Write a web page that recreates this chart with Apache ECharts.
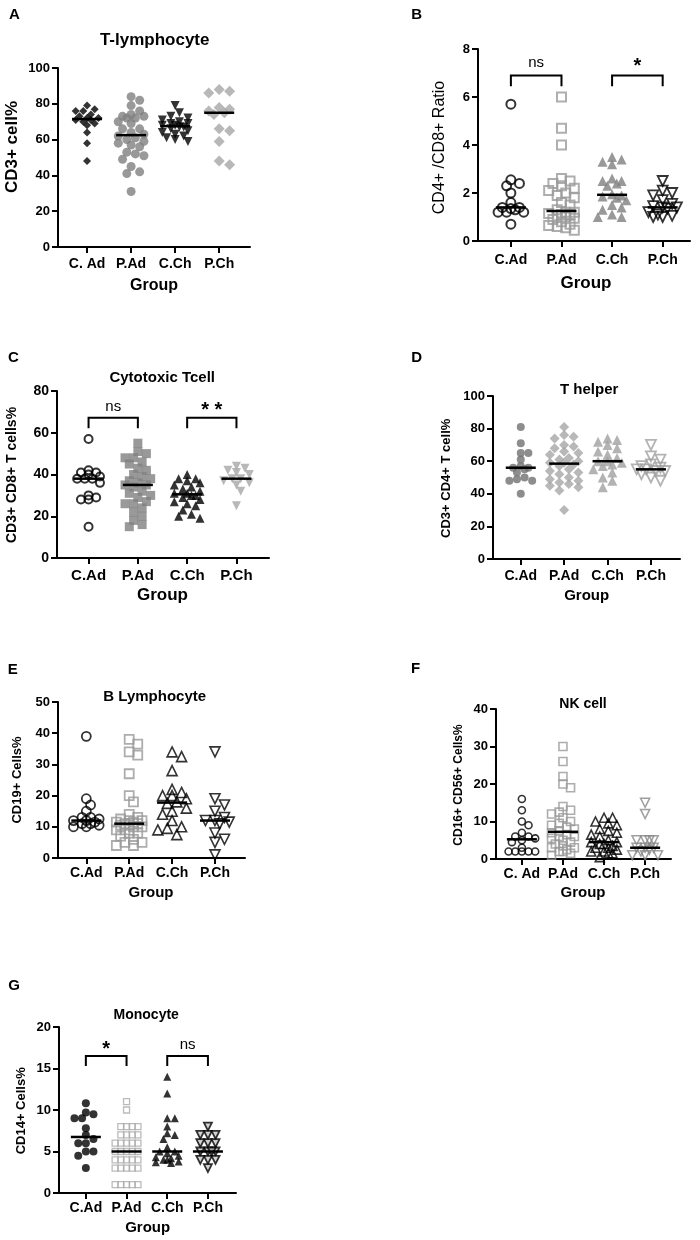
<!DOCTYPE html>
<html><head><meta charset="utf-8">
<script src="https://cdn.jsdelivr.net/npm/echarts@6/dist/echarts.min.js"></script>
<style>html,body{margin:0;padding:0;background:#fff}#c{width:700px;height:1240px}</style>
</head><body><div id="c"></div>
<script>
// ---- categories ----
const catsA = ['C. Ad', 'P.Ad', 'C.Ch', 'P.Ch'];
const catsB = ['C.Ad', 'P.Ad', 'C.Ch', 'P.Ch'];

// ---- A: T-lymphocyte (CD3+ cell%) ----
const A_CAd = [79, 77, 76, 76, 74, 73, 72, 72, 71, 71, 70, 69, 68, 64, 58, 48];
const A_PAd = [84, 82, 79, 76, 74, 73, 73, 72, 72, 70, 69, 66, 66, 64, 63, 62, 61, 60, 59, 58, 57, 56, 53, 52, 51, 49, 45, 42, 41, 31];
const A_CCh = [79, 75, 73, 72, 71, 70, 69, 69, 68, 68, 67, 67, 66, 65, 64, 63, 62, 61, 60, 59];
const A_PCh = [88, 87, 86, 78, 77, 76, 75, 74, 66, 65, 59, 48, 46];

// ---- B: CD4+/CD8+ ratio ----
const B_CAd = [5.7, 2.55, 2.4, 2.3, 2.0, 1.6, 1.4, 1.4, 1.35, 1.3, 1.2, 1.2, 1.2, 0.7];
const B_PAd = [6.0, 4.7, 4.0, 2.6, 2.5, 2.4, 2.3, 2.2, 2.1, 2.0, 1.9, 1.8, 1.6, 1.5, 1.3, 1.2, 1.2, 1.15, 1.1, 1.1, 1.05, 1.0, 0.95, 0.9, 0.8, 0.7, 0.65, 0.6, 0.55, 0.45];
const B_CCh = [3.5, 3.4, 3.3, 3.2, 2.6, 2.5, 2.5, 2.4, 2.3, 1.95, 1.9, 1.85, 1.8, 1.7, 1.5, 1.4, 1.3, 1.1, 1.0, 1.0];
const B_PCh = [2.5, 2.1, 2.0, 1.9, 1.7, 1.55, 1.45, 1.4, 1.4, 1.35, 1.2, 1.1, 1.05, 1.0, 1.0];

// ---- C: Cytotoxic Tcell ----
const C_CAd = [57, 42, 41, 41, 40, 39, 38, 38, 38, 36, 30, 29, 28, 28, 15];
const C_PAd = [55, 51, 50, 48, 48, 46, 45, 43, 42, 40, 39, 38, 37, 36, 35, 35, 34, 32, 31, 30, 29, 27, 26, 26, 24, 22, 20, 18, 16, 15];
const C_CCh = [40, 38, 38, 37, 36, 35, 34, 33, 32, 31, 31, 30, 30, 29, 28, 27, 26, 25, 23, 21, 20, 19];
const C_PCh = [44, 43, 42, 41, 40, 38, 38, 37, 36, 35, 32, 25];

// ---- D: T helper ----
const D_CAd = [81, 71, 65, 65, 61, 57, 56, 56, 55, 53, 50, 49, 48, 48, 40];
const D_PAd = [81, 76, 75, 74, 70, 69, 68, 66, 65, 64, 62, 61, 60, 59, 59, 58, 57, 55, 54, 53, 52, 50, 49, 48, 47, 46, 45, 44, 42, 30];
const D_CCh = [74, 73, 72, 70, 68, 66, 64, 62, 60, 60, 59, 58, 57, 55, 53, 50, 48, 44];
const D_PCh = [70, 63, 61, 58, 57, 56, 55, 55, 54, 54, 52, 50, 48];

// ---- E: B Lymphocyte ----
const E_CAd = [39, 19, 17, 15, 13, 13, 12.5, 12, 12, 11.5, 11, 11, 10.5, 10, 10];
const E_PAd = [38, 36.5, 34, 33, 27, 20, 18, 14, 13, 12.5, 12, 12, 11.5, 11.5, 11, 11, 10.5, 10.5, 10, 10, 9, 9, 8, 8, 7, 6, 5, 5, 4, 4];
const E_CCh = [34, 32.5, 28, 22, 21, 20, 20, 19, 18, 17.5, 16, 15, 14, 12, 10, 9.5, 9, 7.5];
const E_PCh = [34, 19, 17, 15, 13, 12, 12, 11.5, 11, 8, 6, 5, 1];

// ---- F: NK cell ----
const F_CAd = [16, 13, 10, 9, 7, 6, 6, 5.5, 5, 4.5, 3, 2, 2, 2, 2, 2];
const F_PAd = [30, 26, 22, 20, 19, 14, 13, 12.5, 12, 11, 10, 9.5, 9, 8.5, 8, 7.5, 7, 6.5, 6, 6, 5.5, 5, 4.5, 4, 3.5, 3, 3, 2.5, 2, 2, 1.5, 1];
const F_CCh = [11, 11, 10, 9.5, 9, 8, 7.5, 7, 6.5, 6, 5, 4.5, 4.5, 4, 4, 3.5, 3, 3, 2.5, 2, 2, 1.5, 1.5, 0.5];
const F_PCh = [15, 12, 5, 5, 5, 5, 3, 3, 3, 2.5, 2, 1, 1, 1];

// ---- G: Monocyte ----
const G_CAd = [10.8, 9.7, 9.5, 9.0, 9.0, 7.8, 7.0, 6.5, 6.0, 6.0, 5.0, 5.0, 4.5, 3.0];
const G_PAd = [11, 10, 8, 8, 8, 8, 7, 7, 7, 7, 6, 6, 6, 6, 6, 5, 5, 5, 5, 5, 4, 4, 4, 4, 4, 3, 3, 3, 3, 3, 1, 1, 1, 1, 1];
const G_CCh = [14, 12, 9, 9, 8, 7.2, 7, 6.5, 5.5, 5, 5, 4.8, 4.5, 4.3, 4.2, 4, 4, 3.8, 3.7, 3.6];
const G_PCh = [8, 7, 7, 7, 6, 6, 6, 5, 5, 5, 5, 4, 4, 4, 3];

// ---- significance brackets: [fromGroup, toGroup, top, legBottom] + label ----
const B_sig = [[1, 2, 6.9, 6.45], [3, 4, 6.9, 6.45]];
const B_sigText = ['ns', '*'];
const C_sig = [[1, 2, 67.2, 62.2], [3, 4, 67.2, 62.2]];
const C_sigText = ['ns', '* *'];
const G_sig = [[1, 2, 16.5, 15.3], [3, 4, 16.5, 15.3]];
const G_sigText = ['*', 'ns'];

// ---- layout / style (not data) ----
const FF = '"Liberation Sans", Arial, Helvetica, sans-serif';
const filled = (c) => ({ color: c });
const open = (c, w) => ({ color: 'rgba(255,255,255,0)', borderColor: c, borderWidth: w || 1.6 });

const panels = [
  { letter: 'A', L: [14.5, 15], title: 'T-lymphocyte', T: [154.7, 40, 17], yName: 'CD3+ cell%', Y: [12, 147, 17, 'bold'],
    G: [154, 286, 16], cats: catsA, grid: { left: 58, top: 68, width: 192, height: 179 }, xr: [0.34, 4.7], yr: [0, 100, 20],
    tick: 13, xl: 14, xm: 10, data: [A_CAd, A_PAd, A_CCh, A_PCh],
    sty: [['diamond', 8, 0, filled('#000')], ['circle', 9, 0, filled('#7f7f7f')], ['triangle', 9, 180, filled('#000')], ['diamond', 11, 0, filled('#a6a6a6')]] },
  { letter: 'B', L: [416.7, 15], yName: 'CD4+ /CD8+ Ratio', Y: [440, 147.5, 16, 'normal'],
    G: [586, 283, 17], cats: catsB, grid: { left: 478, top: 49, width: 212, height: 192 }, xr: [0.35, 4.54], yr: [0, 8, 2],
    tick: 13, xl: 14, xm: 12, data: [B_CAd, B_PAd, B_CCh, B_PCh], sig: B_sig, sigText: B_sigText, sigGap: 13,
    sty: [['circle', 9, 0, open('#000', 2)], ['rect', 9, 0, open('#9a9a9a', 2)], ['triangle', 10, 0, filled('#808080')], ['triangle', 10, 180, open('#000', 1.8)]] },
  { letter: 'C', L: [13.3, 358.3], title: 'Cytotoxic Tcell', T: [162.2, 377.5, 15], yName: 'CD3+ CD8+ T cells%', Y: [12.5, 475, 14, 'bold'],
    G: [162.5, 595, 17], cats: catsB, grid: { left: 57, top: 391, width: 212, height: 167 }, xr: [0.36, 4.66], yr: [0, 80, 20],
    tick: 14, xl: 15, xm: 10, data: [C_CAd, C_PAd, C_CCh, C_PCh], sig: C_sig, sigText: C_sigText, sigGap: 11,
    sty: [['circle', 8, 0, open('#000', 2)], ['rect', 9, 0, filled('#808080')], ['triangle', 9, 0, filled('#000')], ['triangle', 9, 180, filled('#a6a6a6')]] },
  { letter: 'D', L: [416.7, 358], title: 'T helper', T: [589.2, 389.5, 15], yName: 'CD3+ CD4+ T cell%', Y: [446.3, 478.3, 13, 'bold'],
    G: [586.7, 596, 15], cats: catsB, grid: { left: 493, top: 396, width: 187, height: 163 }, xr: [0.36, 4.67], yr: [0, 100, 20],
    tick: 13, xl: 14, xm: 10, data: [D_CAd, D_PAd, D_CCh, D_PCh],
    sty: [['circle', 8, 0, filled('#707070')], ['diamond', 10, 0, filled('#a6a6a6')], ['triangle', 10, 0, filled('#a0a0a0')], ['triangle', 10, 180, open('#a0a0a0', 1.8)]] },
  { letter: 'E', L: [12.8, 670], title: 'B Lymphocyte', T: [154.7, 697, 15], yName: 'CD19+ Cells%', Y: [17.5, 780, 13, 'bold'],
    G: [151, 892.7, 15], cats: catsB, grid: { left: 58, top: 702, width: 187, height: 156 }, xr: [0.34, 4.7], yr: [0, 50, 10],
    tick: 13, xl: 14, xm: 8, data: [E_CAd, E_PAd, E_CCh, E_PCh],
    sty: [['circle', 9, 0, open('#000', 1.8)], ['rect', 9, 0, open('#999', 1.8)], ['triangle', 10, 0, open('#000', 1.6)], ['triangle', 10, 180, open('#000', 1.6)]] },
  { letter: 'F', L: [415.5, 669], title: 'NK cell', T: [583, 704, 14], yName: 'CD16+ CD56+ Cells%', Y: [458.3, 785, 12, 'bold'],
    G: [583, 893.3, 15], cats: catsA, grid: { left: 496, top: 709, width: 175, height: 150 }, xr: [0.37, 4.63], yr: [0, 40, 10],
    tick: 13, xl: 14, xm: 8, data: [F_CAd, F_PAd, F_CCh, F_PCh],
    sty: [['circle', 7, 0, open('#000', 1.6)], ['rect', 8, 0, open('#999', 1.6)], ['triangle', 9, 0, open('#000', 1.6)], ['triangle', 9, 180, open('#888', 1.6)]] },
  { letter: 'G', L: [14.2, 986.3], title: 'Monocyte', T: [146.2, 1015, 14], yName: 'CD14+ Cells%', Y: [21.5, 1110.8, 13, 'bold'],
    G: [147.7, 1228.3, 15], cats: catsB, grid: { left: 59, top: 1027, width: 177, height: 166 }, xr: [0.34, 4.69], yr: [0, 20, 5],
    tick: 13, xl: 14, xm: 8, data: [G_CAd, G_PAd, G_CCh, G_PCh], sig: G_sig, sigText: G_sigText, sigGap: 11,
    sty: [['circle', 8, 0, filled('#000')], ['rect', 6, 0, open('#aaa', 1.3)], ['triangle', 8, 0, filled('#000')], ['triangle', 8, 180, { color: '#c8c8c8', borderColor: '#000', borderWidth: 1.8 }]] }
];

function median(a) {
  const s = a.slice().sort((x, y) => x - y); const n = s.length;
  return n % 2 ? s[(n - 1) / 2] : (s[n / 2 - 1] + s[n / 2]) / 2;
}
// beeswarm: horizontal offsets (px), limited to +/- maxW, overlaps allowed when crowded
function swarm(vals, yPx, d, maxW) {
  const order = vals.map((v, i) => i).sort((a, b) => vals[b] - vals[a]);
  const placed = []; const off = new Array(vals.length).fill(0);
  const thr = d * 0.85, step = d * 0.5;
  for (const i of order) {
    const py = vals[i] * yPx;
    let best = 0, bestD = -1, chosen = null;
    for (let k = 0; k < 80; k++) {
      const m = Math.ceil(k / 2) * (k % 2 ? 1 : -1);
      const px = m * step;
      if (Math.abs(px) > maxW) break;
      let md = Infinity;
      for (const p of placed) { const dx = p[0] - px, dy = p[1] - py; md = Math.min(md, Math.sqrt(dx * dx + dy * dy)); }
      if (md >= thr) { chosen = px; break; }
      if (md > bestD + 0.5) { bestD = md; best = px; }
    }
    if (chosen === null) chosen = best;
    off[i] = chosen; placed.push([chosen, py]);
  }
  return off;
}

const grids = [], xAxes = [], yAxes = [], series = [], graphics = [];
panels.forEach((p, pi) => {
  grids.push(Object.assign({ containLabel: false }, p.grid));
  const xPx = p.grid.width / (p.xr[1] - p.xr[0]);
  const yPx = p.grid.height / (p.yr[1] - p.yr[0]);
  xAxes.push({
    gridIndex: pi, type: 'value', min: p.xr[0], max: p.xr[1],
    axisLine: { show: true, onZero: false, lineStyle: { color: '#000', width: 2 } },
    axisTick: { show: true, customValues: [1, 2, 3, 4], length: 6, lineStyle: { color: '#000', width: 2 } },
    axisLabel: { customValues: [1, 2, 3, 4], formatter: (v) => p.cats[Math.round(v) - 1], color: '#000', fontFamily: FF, fontWeight: 'bold', fontSize: p.xl, margin: p.xm },
    splitLine: { show: false }
  });
  yAxes.push({
    gridIndex: pi, type: 'value', min: p.yr[0], max: p.yr[1], interval: p.yr[2],
    axisLine: { show: true, lineStyle: { color: '#000', width: 2 } },
    axisTick: { show: true, length: 6, lineStyle: { color: '#000', width: 2 } },
    axisLabel: { color: '#000', fontFamily: FF, fontWeight: 'bold', fontSize: p.tick, margin: 8 },
    splitLine: { show: false }
  });
  p.data.forEach((vals, gi) => {
    const st = p.sty[gi];
    const off = swarm(vals, yPx, st[1] * 0.95, 15);
    series.push({
      type: 'scatter', xAxisIndex: pi, yAxisIndex: pi, silent: true,
      symbol: st[0], symbolSize: st[1], symbolRotate: st[2], itemStyle: st[3],
      data: vals.map((v, i) => [gi + 1 + off[i] / xPx, v]), z: 2
    });
  });
  series.push({
    type: 'custom', coordinateSystem: 'cartesian2d', xAxisIndex: pi, yAxisIndex: pi, silent: true, z: 4,
    encode: { x: 0, y: 1 },
    data: p.data.map((vals, gi) => [gi + 1, median(vals)]),
    renderItem: (params, api) => {
      const c = api.coord([api.value(0), api.value(1)]);
      return { type: 'line', shape: { x1: c[0] - 15, y1: c[1], x2: c[0] + 15, y2: c[1] }, style: { stroke: '#000', lineWidth: 2.5 } };
    }
  });
  if (p.sig) {
    series.push({
      type: 'custom', coordinateSystem: 'cartesian2d', xAxisIndex: pi, yAxisIndex: pi, silent: true, z: 4,
      encode: { x: [0, 1], y: [2, 3] },
      data: p.sig,
      renderItem: (params, api) => {
        const a = api.coord([api.value(0), api.value(3)]);
        const b = api.coord([api.value(0), api.value(2)]);
        const c = api.coord([api.value(1), api.value(2)]);
        const d = api.coord([api.value(1), api.value(3)]);
        const t = p.sigText[params.dataIndex];
        const star = t.indexOf('*') >= 0;
        return { type: 'group', children: [
          { type: 'polyline', shape: { points: [a, b, c, d] }, style: { stroke: '#000', lineWidth: 2, fill: null } },
          { type: 'text', x: (b[0] + c[0]) / 2, y: b[1] - p.sigGap + (star ? 4 : 0),
            style: { text: t, align: 'center', verticalAlign: 'middle', fill: '#000', font: (star ? 'bold 20px ' : '15px ') + FF } }
        ] };
      }
    });
  }
  graphics.push({ type: 'text', x: p.L[0], y: p.L[1], style: { text: p.letter, align: 'center', verticalAlign: 'middle', fill: '#000', font: 'bold 15px ' + FF } });
  if (p.title) graphics.push({ type: 'text', x: p.T[0], y: p.T[1], style: { text: p.title, align: 'center', verticalAlign: 'middle', fill: '#000', font: 'bold ' + p.T[2] + 'px ' + FF } });
  graphics.push({ type: 'text', x: p.Y[0], y: p.Y[1], rotation: Math.PI / 2, style: { text: p.yName, align: 'center', verticalAlign: 'middle', fill: '#000', font: p.Y[3] + ' ' + p.Y[2] + 'px ' + FF } });
  graphics.push({ type: 'text', x: p.G[0], y: p.G[1], style: { text: 'Group', align: 'center', verticalAlign: 'middle', fill: '#000', font: 'bold ' + p.G[2] + 'px ' + FF } });
});

const chart = echarts.init(document.getElementById('c'), null, { renderer: 'canvas' });
chart.setOption({
  backgroundColor: '#fff', animation: false,
  grid: grids, xAxis: xAxes, yAxis: yAxes, series: series, graphic: graphics
});
</script></body></html>
